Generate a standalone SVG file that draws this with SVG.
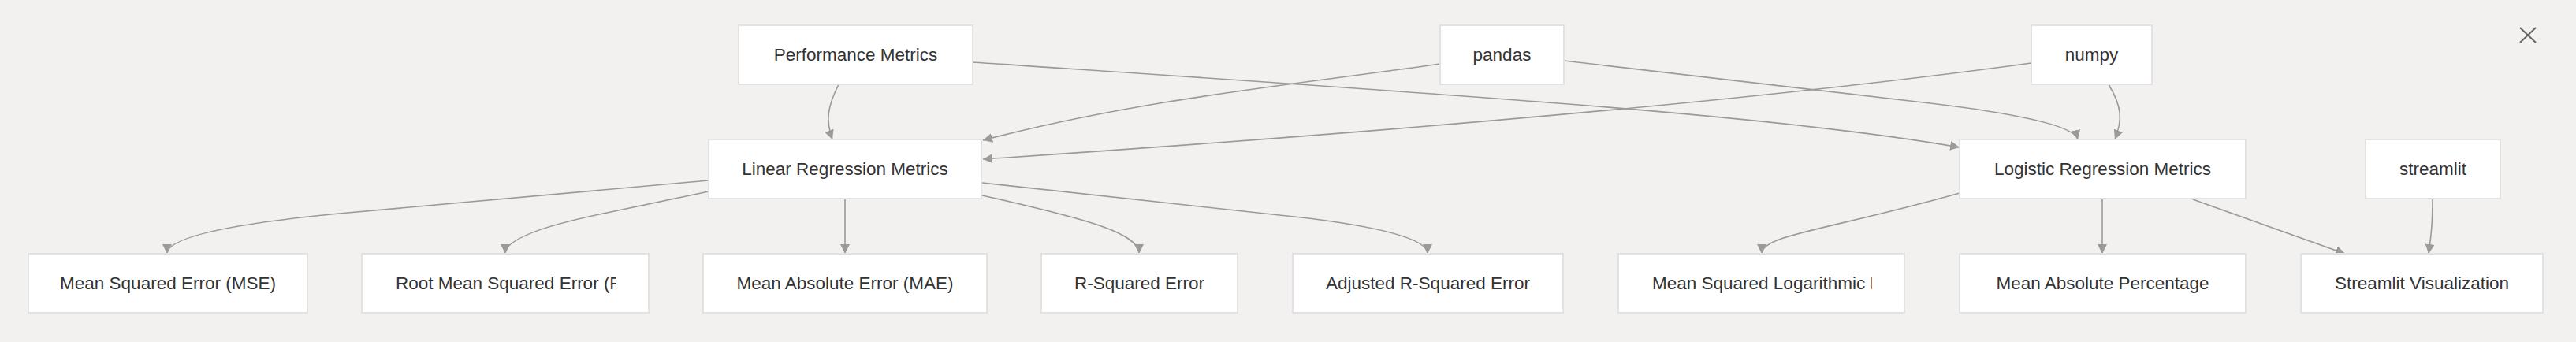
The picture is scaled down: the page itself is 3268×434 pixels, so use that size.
<svg xmlns="http://www.w3.org/2000/svg" width="3268" height="434" viewBox="0 0 3268 434">
<style>
.bg{fill:#f2f1ef}
.node rect{fill:#ffffff;stroke:#e2e2e2;stroke-width:2}
.node text{font-family:"Liberation Sans",Arial,sans-serif;font-size:22.5px;fill:#333333}
.c{text-anchor:middle}
.edge{fill:none;stroke:#9a9a9a;stroke-width:1.6;marker-end:url(#arr)}
.close{stroke:#666666;stroke-width:2}
</style>
<defs>
<marker id="arr" viewBox="0 0 10 10" refX="10" refY="5" markerWidth="12" markerHeight="12" markerUnits="userSpaceOnUse" orient="auto">
<path d="M0,0 L10,5 L0,10 z" fill="#9a9a9a"/>
</marker>
<clipPath id="clipRmse"><rect x="500" y="322" width="282" height="75"/></clipPath>
<clipPath id="clipMsle"><rect x="2094" y="322" width="281" height="75"/></clipPath>
</defs>
<rect class="bg" x="0" y="0" width="3268" height="434"/>

<g id="connectors">
<path class="edge" d="M1064,107 C1050,135 1047,152 1056,177"/>
<path class="edge" d="M1234,79 C1800,117 2250,145 2486,187"/>
<path class="edge" d="M1827,81 C1640,108 1450,125 1247,178"/>
<path class="edge" d="M1984,77 L2440,130 Q2630,152 2636,177"/>
<path class="edge" d="M2577,80 Q2100,145 1247,202"/>
<path class="edge" d="M2675,107 C2692,135 2693,152 2683,177"/>
<path class="edge" d="M899,229 L430,271 Q212,292 212,322"/>
<path class="edge" d="M899,243 L770,270 Q641,296 641,322"/>
<path class="edge" d="M1072,252 L1072,322"/>
<path class="edge" d="M1246,248 C1380,278 1445,296 1445,322"/>
<path class="edge" d="M1246,232 L1660,277 Q1811,296 1811,322"/>
<path class="edge" d="M2486,245 C2320,292 2235,298 2235,322"/>
<path class="edge" d="M2667,252 L2667,322"/>
<path class="edge" d="M2782,253 L2975,322"/>
<path class="edge" d="M3086,253 C3086,285 3084,300 3081,322"/>
</g>

<g id="performance-metrics" class="node"><rect x="937" y="32" width="297" height="75"/><text class="c" x="1085.5" y="77">Performance Metrics</text></g>
<g id="pandas" class="node"><rect x="1827" y="32" width="157" height="75"/><text class="c" x="1905.5" y="77">pandas</text></g>
<g id="numpy" class="node"><rect x="2577" y="32" width="153" height="75"/><text class="c" x="2653.5" y="77">numpy</text></g>
<g id="linear-regression-metrics" class="node"><rect x="899" y="177" width="346" height="75"/><text class="c" x="1072" y="222">Linear Regression Metrics</text></g>
<g id="logistic-regression-metrics" class="node"><rect x="2486" y="177" width="363" height="75"/><text class="c" x="2667.5" y="222">Logistic Regression Metrics</text></g>
<g id="streamlit" class="node"><rect x="3001" y="177" width="171" height="75"/><text class="c" x="3086.5" y="222">streamlit</text></g>
<g id="mse" class="node"><rect x="36" y="322" width="354" height="75"/><text class="c" x="213" y="367">Mean Squared Error (MSE)</text></g>
<g id="rmse" class="node"><rect x="459" y="322" width="364" height="75"/><text x="502" y="367" clip-path="url(#clipRmse)">Root Mean Squared Error (RMSE)</text></g>
<g id="mae" class="node"><rect x="892" y="322" width="360" height="75"/><text class="c" x="1072" y="367">Mean Absolute Error (MAE)</text></g>
<g id="r-squared" class="node"><rect x="1321" y="322" width="249" height="75"/><text class="c" x="1445.5" y="367">R-Squared Error</text></g>
<g id="adjusted-r-squared" class="node"><rect x="1640" y="322" width="343" height="75"/><text class="c" x="1811.5" y="367">Adjusted R-Squared Error</text></g>
<g id="msle" class="node"><rect x="2053" y="322" width="363" height="75"/><text x="2096" y="367" clip-path="url(#clipMsle)">Mean Squared Logarithmic Error (MSLE)</text></g>
<g id="mape" class="node"><rect x="2486" y="322" width="363" height="75"/><text class="c" x="2667.5" y="367">Mean Absolute Percentage</text></g>
<g id="streamlit-visualization" class="node"><rect x="2919" y="322" width="307" height="75"/><text class="c" x="3072.5" y="367">Streamlit Visualization</text></g>

<g id="close-button">
<line class="close" x1="3197" y1="35" x2="3217" y2="54"/>
<line class="close" x1="3217" y1="35" x2="3197" y2="54"/>
</g>
</svg>
